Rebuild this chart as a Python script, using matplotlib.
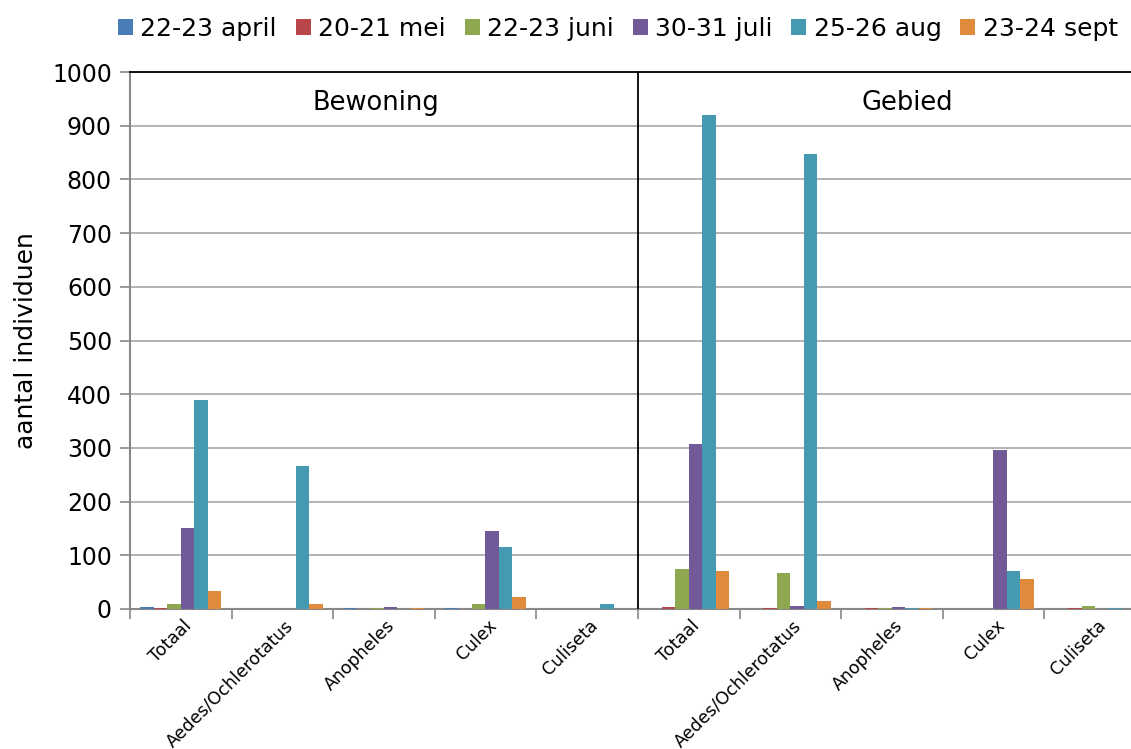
import numpy as np
import matplotlib
matplotlib.use('Agg')
import matplotlib.pyplot as plt

categories = ['Totaal', 'Aedes/Ochlerotatus', 'Anopheles', 'Culex', 'Culiseta',
              'Totaal', 'Aedes/Ochlerotatus', 'Anopheles', 'Culex', 'Culiseta']
series_names = ['22-23 april', '20-21 mei', '22-23 juni', '30-31 juli', '25-26 aug', '23-24 sept']

april = [4, 0, 1, 1, 0, 0, 0, 0, 0, 0]
mei = [1, 0, 0, 0, 0, 3, 1, 1, 0, 1]
juni = [9, 0, 1, 9, 0, 75, 67, 1, 0, 6]
juli = [150, 0, 3, 145, 0, 307, 6, 3, 296, 0]
aug = [390, 267, 0, 115, 9, 920, 848, 1, 70, 1]
sept = [34, 10, 1, 22, 0, 71, 14, 1, 56, 0]

groups = ['Bewoning', 'Gebied']
colors = ['#4A7CB8', '#B9474A', '#8DA84F', '#725A98', '#4599B1', '#E08A3E']

plt.rcParams['font.family'] = ['DejaVu Sans']

fig = plt.figure(figsize=(11.31, 7.49), dpi=100)
fig.set_facecolor('white')
ax = fig.add_axes([130 / 1131, 1 - 609 / 749, 1016 / 1131, 537 / 749])

series = [april, mei, juni, juli, aug, sept]
x = np.arange(len(categories))
n = len(series)
bw = 0.8 / n * 0.995
for i, (vals, name, c) in enumerate(zip(series, series_names, colors)):
    ax.bar(x - 0.4 + bw * (i + 0.5), vals, width=bw, color=c, label=name,
           linewidth=0, zorder=3)

ax.set_xlim(-0.5, len(categories) - 0.5)
ax.set_ylim(0, 1000)
ax.set_yticks(np.arange(0, 1001, 100))
ax.tick_params(axis='y', labelsize=17, length=7, width=1.2, color='#888888', direction='out', pad=6)
ax.grid(axis='y', color='#a6a6a6', linewidth=1.2, zorder=0)
ax.set_axisbelow(True)

# category boundaries as ticks, labels at the category centres
ax.set_xticks(np.arange(-0.5, len(categories) + 0.5, 1))
ax.set_xticklabels([])
ax.tick_params(axis='x', length=7, width=1.2, color='#888888', direction='out')
for xi, cat in zip(x, categories):
    ax.text(xi + 0.02, -14, cat, rotation=45, ha='right', va='top',
            rotation_mode='anchor', fontsize=12.5, clip_on=False)

for s in ['left', 'bottom']:
    ax.spines[s].set_color('#888888')
    ax.spines[s].set_linewidth(1.5)
ax.spines['right'].set_visible(False)
ax.spines['top'].set_color('black')
ax.spines['top'].set_linewidth(1.3)

# divider between the two groups
ax.axvline(4.5, color='black', linewidth=1.3, zorder=4)

ax.text(1.92, 942, groups[0], fontsize=18.5, ha='center', va='center')
ax.text(7.15, 942, groups[1], fontsize=18.5, ha='center', va='center')

ax.set_ylabel('aantal individuen', fontsize=18, labelpad=10)

fig.legend(loc='upper right', bbox_to_anchor=(1133 / 1131, 0.997), ncol=6, frameon=False,
           fontsize=18, handlelength=0.6, handleheight=0.6, handletextpad=0.3,
           columnspacing=0.75, borderaxespad=0.2)

fig.savefig('out.png', dpi=100)
